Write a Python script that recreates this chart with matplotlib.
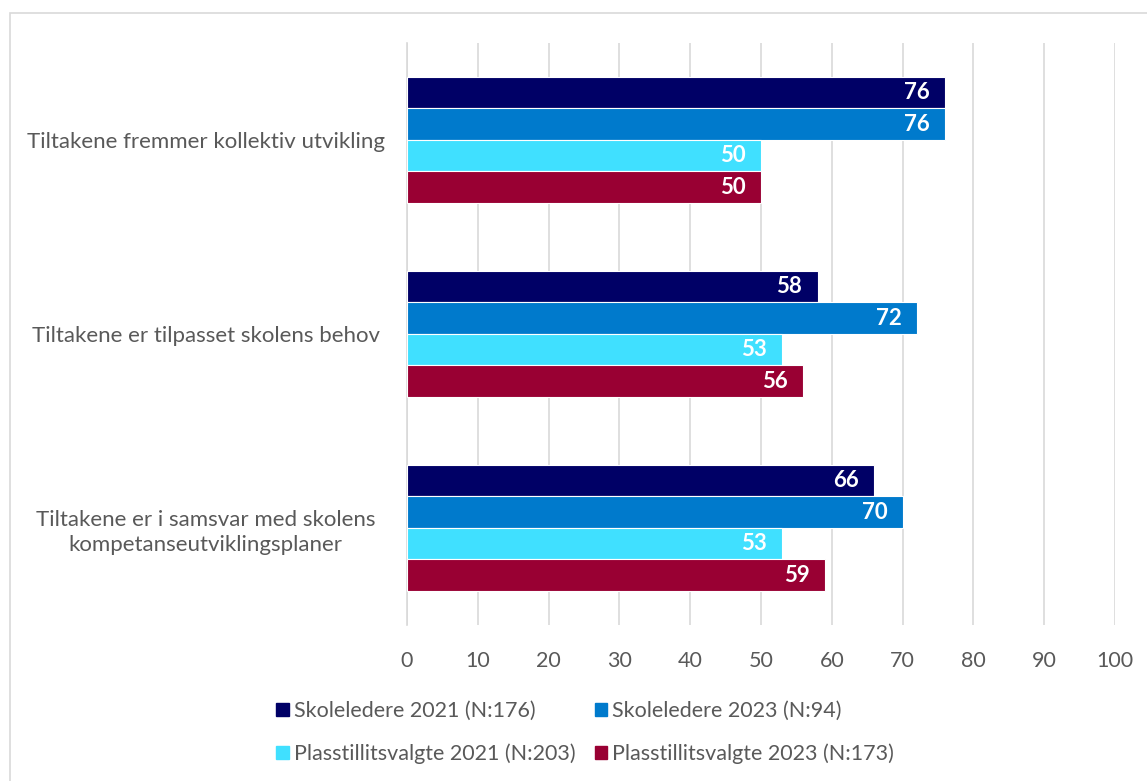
import matplotlib.pyplot as plt
import matplotlib.patches as mpatches
import numpy as np

plt.rcParams['font.family'] = ['Lato', 'DejaVu Sans']

categories = [
    'Tiltakene fremmer kollektiv utvikling',
    'Tiltakene er tilpasset skolens behov',
    'Tiltakene er i samsvar med skolens\nkompetanseutviklingsplaner',
]
series_names = [
    'Skoleledere 2021 (N:176)',
    'Skoleledere 2023 (N:94)',
    'Plasstillitsvalgte 2021 (N:203)',
    'Plasstillitsvalgte 2023 (N:173)',
]
skoleledere_2021 = [76, 58, 66]
skoleledere_2023 = [76, 72, 70]
plasstillitsvalgte_2021 = [50, 53, 53]
plasstillitsvalgte_2023 = [50, 56, 59]
colors = ['#000066', '#007ACC', '#40E0FF', '#990033']

values = [skoleledere_2021, skoleledere_2023,
          plasstillitsvalgte_2021, plasstillitsvalgte_2023]
text_color = '#595959'

fig = plt.figure(figsize=(11.47, 7.81), dpi=100)
ax = fig.add_axes([0.3548, 0.2, 0.6173, 0.745])

y = np.arange(len(categories))
bar_h = 0.1625
for i, (vals, col) in enumerate(zip(values, colors)):
    pos = y - 1.5 * bar_h + i * bar_h
    ax.barh(pos, vals, height=bar_h, color=col, edgecolor='white',
            linewidth=0.8, label=series_names[i], zorder=3)
    for p, v in zip(pos, vals):
        ax.annotate(str(v), (v, p), xytext=(-11, 0), textcoords='offset points',
                    ha='right', va='center', color='white', fontsize=16,
                    fontweight='bold', zorder=4)

ax.set_xlim(0, 100)
ax.set_ylim(len(categories) - 0.5, -0.5)
ax.set_xticks(range(0, 101, 10))
ax.set_yticks(y)
ax.set_yticklabels(categories, fontsize=16, color=text_color, ha='center',
                   linespacing=1.3)
ax.tick_params(axis='y', length=0, pad=145)
ax.tick_params(axis='x', length=0, labelsize=15.5, labelcolor=text_color, pad=19)
ax.grid(axis='x', color='#D9D9D9', linewidth=1.2, zorder=0)
for s in ['top', 'right', 'bottom']:
    ax.spines[s].set_visible(False)
ax.spines['left'].set_color('#D9D9D9')
ax.spines['left'].set_linewidth(1.2)

# legend fills column by column, so reorder to get two rows of pairs
order = [0, 2, 1, 3]
handles = [mpatches.Patch(color=colors[k]) for k in order]
labels = [series_names[k] for k in order]
fig.legend(handles, labels, loc='center', bbox_to_anchor=(0.51, 0.062), ncol=2,
           frameon=False, fontsize=15.5, labelcolor=text_color,
           handlelength=0.6, handleheight=0.6, handletextpad=0.2,
           columnspacing=0.9, labelspacing=1.05)

# thin frame around the chart area
fig.patches.append(mpatches.Rectangle((10 / 1147, -0.01), 1.0, 1 - 13 / 781 + 0.01,
                                      transform=fig.transFigure, fill=False,
                                      edgecolor='#D9D9D9', linewidth=1.2))

fig.savefig('out.png', dpi=100)
